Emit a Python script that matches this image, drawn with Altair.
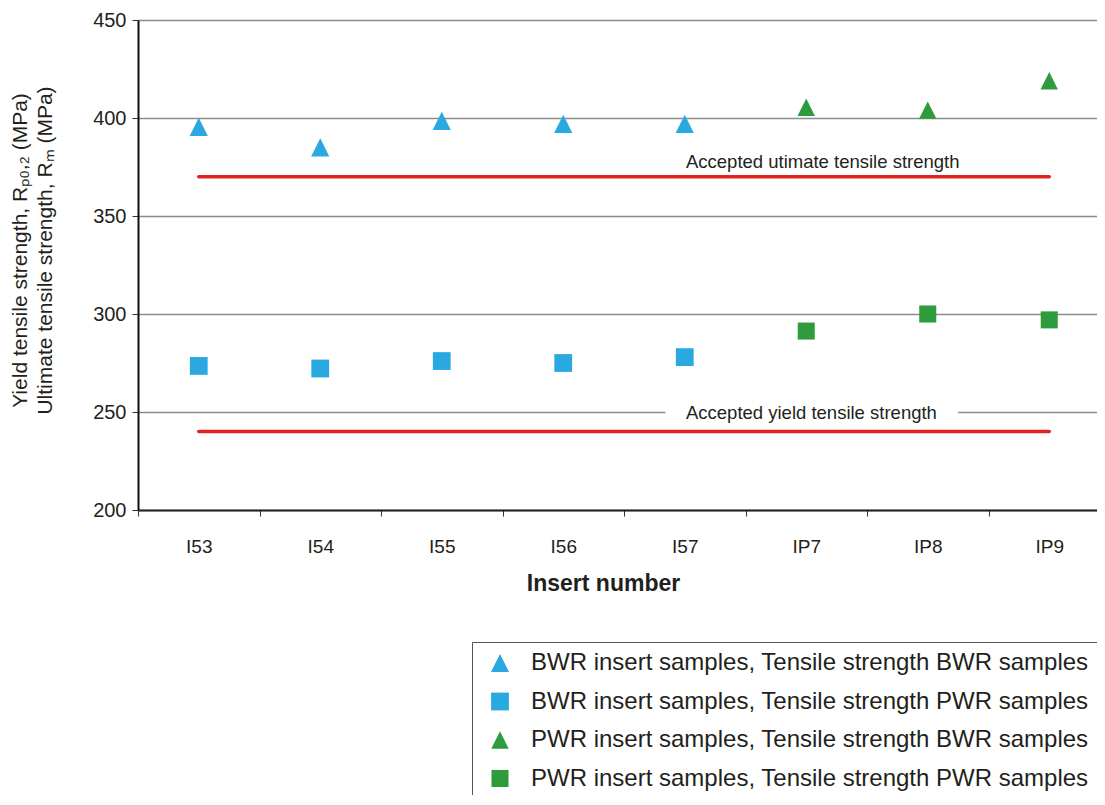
import altair as alt
import pandas as pd

# ---------------- data ----------------
categories = ["I53", "I54", "I55", "I56", "I57", "IP7", "IP8", "IP9"]
bwr_inserts = ["I53", "I54", "I55", "I56", "I57"]
pwr_inserts = ["IP7", "IP8", "IP9"]

bwr_ts_bwr = [395.5, 385.0, 398.5, 397.0, 397.0]
bwr_ts_pwr = [273.5, 272.2, 276.0, 275.0, 278.0]
pwr_ts_bwr = [405.5, 404.0, 419.0]
pwr_ts_pwr = [291.3, 300.0, 297.0]

series_names = [
    "BWR insert samples, Tensile strength BWR samples",
    "BWR insert samples, Tensile strength PWR samples",
    "PWR insert samples, Tensile strength BWR samples",
    "PWR insert samples, Tensile strength PWR samples",
]

accepted_values = [370, 240]
accepted_labels = ["Accepted utimate tensile strength", "Accepted yield tensile strength"]

y_ticks = [200, 250, 300, 350, 400, 450]

# ---------------- styles ----------------
BLUE = "#29a9e0"
GREEN = "#2e9c3c"
RED = "#e3231f"
TEXT = "#231f20"
TRI = "M0,-1L1,1L-1,1Z"
series_colors = [BLUE, BLUE, GREEN, GREEN]
series_shapes = [TRI, "square", TRI, "square"]
series_sizes = [330, 290, 400, 225]
FONT = "Liberation Sans"

rows = []
for cat, v in zip(bwr_inserts, bwr_ts_bwr):
    rows.append({"insert": cat, "value": v, "series": series_names[0]})
for cat, v in zip(bwr_inserts, bwr_ts_pwr):
    rows.append({"insert": cat, "value": v, "series": series_names[1]})
for cat, v in zip(pwr_inserts, pwr_ts_bwr):
    rows.append({"insert": cat, "value": v, "series": series_names[2]})
for cat, v in zip(pwr_inserts, pwr_ts_pwr):
    rows.append({"insert": cat, "value": v, "series": series_names[3]})
df = pd.DataFrame(rows)

# annotation geometry in data units (x: category index scale 0..8)
line_df = pd.DataFrame({"x": [0.5] * 2, "x2": [7.5] * 2, "value": accepted_values})
text_df = pd.DataFrame({"x": [4.51, 4.51], "value": [377.5, 249.6], "label": accepted_labels})
box_df = pd.DataFrame({"x": [4.34], "x2": [6.75], "value": [246.3], "value2": [253.2]})

yscale = alt.Scale(domain=[200, 450], nice=False, zero=False)
xq_scale = alt.Scale(domain=[0, 8], nice=False, zero=False)

legend = alt.Legend(
    title=None, orient="none", legendX=334, legendY=622,
    labelFontSize=24, labelFont=FONT, labelColor=TEXT, labelLimit=800,
    rowPadding=14.5, padding=9, strokeColor="#555555",
    symbolOffset=7, labelOffset=19, fillColor="white",
)

points = alt.Chart(df).mark_point(filled=True, opacity=1, strokeWidth=0).encode(
    x=alt.X(
        "insert:N", sort=categories,
        scale=alt.Scale(type="band", domain=categories, paddingInner=0, paddingOuter=0),
        axis=alt.Axis(
            title="Insert number", tickBand="extent", labelAngle=0, grid=False,
            labelFontSize=19, labelFont=FONT, labelColor=TEXT, labelPadding=21,
            tickSize=6, tickColor="#333333", tickWidth=1,
            domainColor="#222222", domainWidth=2,
            titleFontSize=23, titleFont=FONT, titleFontWeight="bold", titleColor=TEXT,
            titleX=465, titleY=62, titleAlign="center", titleBaseline="top",
        ),
    ),
    y=alt.Y(
        "value:Q", scale=yscale,
        axis=alt.Axis(
            values=y_ticks, grid=True, gridColor="#8c8c8c", gridWidth=1.5,
            labelFontSize=20, labelFont=FONT, labelColor=TEXT, labelPadding=6,
            tickSize=6, tickColor="#333333", tickWidth=1,
            domainColor="#111111", domainWidth=2,
            title=["Yield tensile strength, R\u209a\u2080,\u2082 (MPa)",
                   "Ultimate tensile strength, R\u2098 (MPa)"],
            titleFontSize=21, titleFont=FONT, titleFontWeight="normal", titleColor=TEXT,
            titleLineHeight=25, titleAngle=270, titleX=-129, titleY=230,
            titleAlign="center", titleBaseline="top",
        ),
    ),
    color=alt.Color("series:N", scale=alt.Scale(domain=series_names, range=series_colors), legend=legend),
    shape=alt.Shape("series:N", scale=alt.Scale(domain=series_names, range=series_shapes), legend=legend),
    size=alt.Size("series:N", scale=alt.Scale(domain=series_names, range=series_sizes), legend=legend),
)

box = alt.Chart(box_df).mark_rect(color="white").encode(
    x=alt.X("x:Q", scale=xq_scale, axis=None),
    x2="x2:Q",
    y=alt.Y("value:Q", scale=yscale),
    y2="value2:Q",
)

rules = alt.Chart(line_df).mark_rule(color=RED, strokeWidth=3.5, strokeCap="round").encode(
    x=alt.X("x:Q", scale=xq_scale, axis=None),
    x2="x2:Q",
    y=alt.Y("value:Q", scale=yscale),
)

texts = alt.Chart(text_df).mark_text(
    align="left", baseline="middle", fontSize=18.5, font=FONT, color=TEXT
).encode(
    x=alt.X("x:Q", scale=xq_scale, axis=None),
    y=alt.Y("value:Q", scale=yscale),
    text="label:N",
)

chart = alt.layer(points, box, rules, texts).resolve_scale(x="independent").properties(
    width=972, height=490,
    autosize=alt.AutoSizeParams(type="none"),
    padding={"left": 130, "top": 12, "right": -13, "bottom": 285},
).configure_view(strokeWidth=0).configure(background="white")

chart.save("out.html", embed_options={"renderer": "svg", "actions": False})
